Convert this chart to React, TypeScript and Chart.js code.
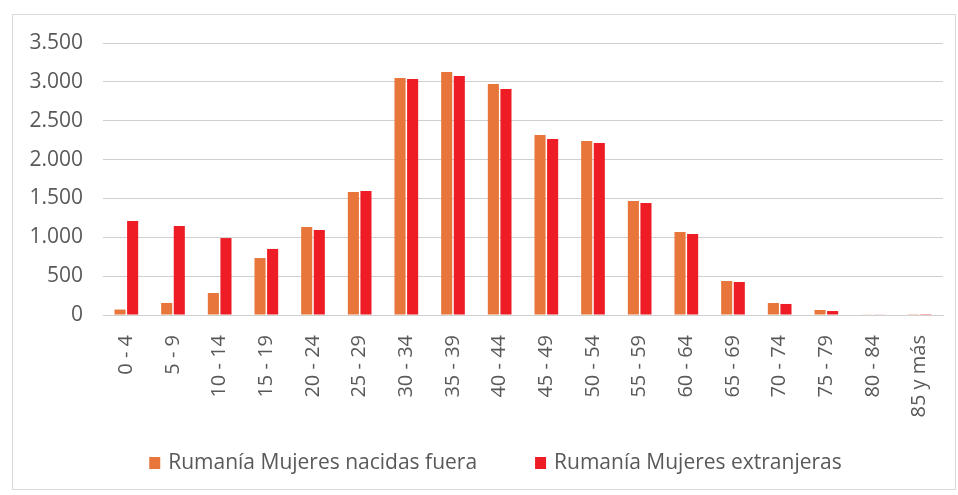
import React, { useEffect, useRef } from "react";
import { Chart, registerables } from "chart.js";

Chart.register(...registerables);

const categories = ["0 - 4", "5 - 9", "10 - 14", "15 - 19", "20 - 24", "25 - 29", "30 - 34", "35 - 39", "40 - 44", "45 - 49", "50 - 54", "55 - 59", "60 - 64", "65 - 69", "70 - 74", "75 - 79", "80 - 84", "85 y más"];
const nacidasFuera = [70, 155, 283, 733, 1132, 1583, 3050, 3127, 2973, 2316, 2239, 1467, 1068, 437, 154, 64, 8, 3];
const extranjeras = [1210, 1145, 990, 850, 1094, 1596, 3037, 3075, 2908, 2265, 2213, 1441, 1042, 425, 142, 51, 5, 2];
const seriesNames = ["Rumanía Mujeres nacidas fuera", "Rumanía Mujeres extranjeras"];
const seriesColors = ["#E8763A", "#EE1D25"];
const yTicks = [0, 500, 1000, 1500, 2000, 2500, 3000, 3500];

const FONT = "'Open Sans', sans-serif";

function fmt(v: number): string {
  const s = Math.round(v).toString();
  return s.replace(/\B(?=(\d{3})+(?!\d))/g, ".");
}

const borderPlugin = {
  id: "outerBorder",
  beforeDraw(chart: any) {
    const ctx = chart.ctx;
    ctx.save();
    ctx.fillStyle = "#ffffff";
    ctx.fillRect(0, 0, chart.width, chart.height);
    ctx.strokeStyle = "#d9d9d9";
    ctx.lineWidth = 1;
    ctx.strokeRect(12.5, 14.5, 943, 475);
    ctx.restore();
  },
};

const legendPlugin = {
  id: "customLegend",
  afterDraw(chart: any) {
    const ctx = chart.ctx;
    ctx.save();
    ctx.font = `21px ${FONT}`;
    ctx.textBaseline = "middle";
    ctx.textAlign = "left";
    const box = 11;
    const boxGap = 8;
    const itemGap = 58;
    const ds = chart.data.datasets;
    const widths = ds.map((d: any) => ctx.measureText(d.label).width);
    let total = 0;
    ds.forEach((d: any, i: number) => {
      total += box + boxGap + widths[i];
      if (i < ds.length - 1) total += itemGap;
    });
    const centerX = 495.5;
    const cy = 463;
    let x = centerX - total / 2;
    ds.forEach((d: any, i: number) => {
      ctx.fillStyle = d.backgroundColor;
      ctx.fillRect(x, cy - 6, box, 12);
      x += box + boxGap;
      ctx.fillStyle = "#595959";
      ctx.fillText(d.label, x, cy);
      x += widths[i] + itemGap;
    });
    ctx.restore();
  },
};

export default function App() {
  const ref = useRef<HTMLCanvasElement | null>(null);
  useEffect(() => {
    document.body.style.margin = "0";
    if (!ref.current) return;
    const chart = new Chart(ref.current, {
      type: "bar",
      data: {
        labels: categories,
        datasets: [
          {
            label: seriesNames[0],
            data: nacidasFuera,
            backgroundColor: seriesColors[0],
            categoryPercentage: 0.54,
            barPercentage: 0.88,
          },
          {
            label: seriesNames[1],
            data: extranjeras,
            backgroundColor: seriesColors[1],
            categoryPercentage: 0.54,
            barPercentage: 0.88,
          },
        ],
      },
      options: {
        animation: false,
        responsive: false,
        maintainAspectRatio: false,
        layout: { padding: { left: 0, top: 43, right: 15, bottom: 60 } },
        plugins: {
          tooltip: { enabled: false },
          legend: { display: false },
        },
        scales: {
          x: {
            grid: { display: false, drawTicks: false },
            border: { display: true, color: "#d0d0d0" },
            ticks: {
              color: "#595959",
              font: { family: FONT, size: 20 },
              minRotation: 90,
              maxRotation: 90,
              padding: 20,
              autoSkip: false,
            },
            afterFit(scale: any) {
              scale.height = 120;
              scale.paddingLeft = 0;
              scale.paddingRight = 0;
            },
          },
          y: {
            min: 0,
            max: 3500,
            grid: { color: "#d0d0d0", drawTicks: false },
            border: { display: false },
            afterBuildTicks(scale: any) {
              scale.ticks = yTicks.map((v) => ({ value: v }));
            },
            ticks: {
              color: "#595959",
              font: { family: FONT, size: 21 },
              padding: 20,
              callback: (v: any) => fmt(Number(v)),
            },
            afterFit(scale: any) {
              scale.width = 103;
              scale.paddingTop = 0;
              scale.paddingBottom = 0;
            },
          },
        },
      },
      plugins: [borderPlugin, legendPlugin],
    });
    return () => chart.destroy();
  }, []);
  return (
    <div style={{ width: 958, height: 495 }}>
      <canvas ref={ref} width={958} height={495} style={{ display: "block", width: 958, height: 495 }} />
    </div>
  );
}
